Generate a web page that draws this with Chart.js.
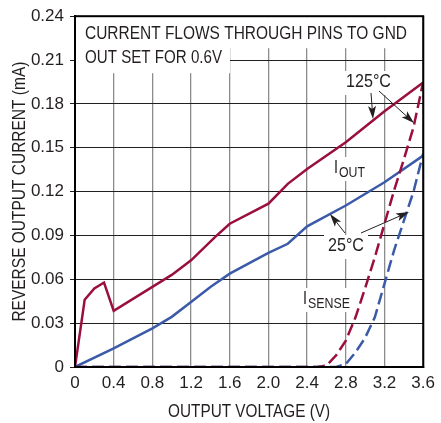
<!DOCTYPE html>
<html>
<head>
<meta charset="utf-8">
<script src="https://cdn.jsdelivr.net/npm/chart.js@4"></script>
<style>
  body { margin: 0; background: #fff; }
  #wrap { width: 441px; height: 423px; }
</style>
</head>
<body>
<div id="wrap"><canvas id="revChart" width="441" height="423"></canvas></div>
<script>
// values (V, mA)
const xTicks = [0, 0.4, 0.8, 1.2, 1.6, 2.0, 2.4, 2.8, 3.2, 3.6];
const yTicks = [0, 0.03, 0.06, 0.09, 0.12, 0.15, 0.18, 0.21, 0.24];

const iout125V = [0, 0.1, 0.2, 0.3, 0.4, 0.8, 1.0, 1.2, 1.45, 1.6, 2.0, 2.2, 2.4, 2.8, 3.2, 3.6];
const iout125I = [0, 0.046, 0.0537, 0.0578, 0.0384, 0.0548, 0.063, 0.073, 0.089, 0.098, 0.1117, 0.1253, 0.1355, 0.1537, 0.175, 0.1946];

const iout25V = [0, 0.4, 0.8, 1.0, 1.2, 1.4, 1.6, 2.0, 2.2, 2.4, 2.8, 3.2, 3.6];
const iout25I = [0, 0.0127, 0.0264, 0.0343, 0.0445, 0.0548, 0.0639, 0.078, 0.0843, 0.0962, 0.1105, 0.1264, 0.1446];

const isense125V = [0, 2.5, 2.6, 2.7, 2.8, 2.9, 3.0, 3.1, 3.2, 3.3, 3.4, 3.5, 3.6];
const isense125I = [0, 0, 0.001, 0.008, 0.018, 0.034, 0.054, 0.075, 0.098, 0.121, 0.142, 0.164, 0.195];

const isense25V = [0, 2.7, 2.8, 2.9, 3.0, 3.1, 3.2, 3.3, 3.4, 3.5, 3.6];
const isense25I = [0, 0, 0.002, 0.01, 0.02, 0.034, 0.057, 0.08, 0.1, 0.12, 0.146];

const RED = '#9a0f3e';
const BLUE = '#3b5ba9';
const INK = '#231f20';
const FONT = "'Liberation Sans', Arial, sans-serif";

function pts(xs, ys) {
    return xs.map((x, i) => ({ x: x, y: ys[i] }));
}

// draws text squeezed horizontally to the given width (the original uses a condensed face)
function fitText(ctx, txt, x, y, size, width, align) {
    ctx.font = size + 'px ' + FONT;
    let w = ctx.measureText(txt).width;
    let k = width / w;
    ctx.save();
    ctx.translate(x, y);
    ctx.scale(k, 1);
    ctx.textBaseline = 'middle';
    ctx.textAlign = align || 'left';
    ctx.fillStyle = INK;
    ctx.fillText(txt, 0, 0);
    ctx.restore();
}

function label(ctx, txt, x, y, w, sub, subW) {
    ctx.fillStyle = '#fff';
    ctx.fillRect(x - 4, y - 11, w + (subW || 0) + 8, 24);
    fitText(ctx, txt, x, y, 18, w);
    if (sub) fitText(ctx, sub, x + w + 1, y + 5, 15, subW);
}

function arrow(ctx, x1, y1, x2, y2) {
    let a = Math.atan2(y2 - y1, x2 - x1);
    let c = Math.cos(a), s = Math.sin(a);
    ctx.strokeStyle = INK;
    ctx.fillStyle = INK;
    ctx.lineWidth = 1;
    ctx.beginPath();
    ctx.moveTo(x1, y1);
    ctx.lineTo(x2 - 8 * c, y2 - 8 * s);
    ctx.stroke();
    ctx.beginPath();
    ctx.moveTo(x2, y2);
    ctx.lineTo(x2 - 13 * c + 4 * s, y2 - 13 * s - 4 * c);
    ctx.lineTo(x2 - 10 * c, y2 - 10 * s);
    ctx.lineTo(x2 - 13 * c - 4 * s, y2 - 13 * s + 4 * c);
    ctx.closePath();
    ctx.fill();
}

const notes = {
    id: 'notes',
    beforeDatasetsDraw(chart) {
        let ctx = chart.ctx;
        let a = chart.chartArea;
        ctx.save();
        ctx.fillStyle = '#fff';
        ctx.fillRect(a.left + 1, a.top + 1, a.right - a.left - 2, 31);
        ctx.fillRect(a.left + 1, a.top + 1, 154, 56);
        fitText(ctx, 'CURRENT FLOWS THROUGH PINS TO GND', 85, 34, 18, 322);
        fitText(ctx, 'OUT SET FOR 0.6V', 85, 58, 18, 137);
        label(ctx, '125°C', 346, 82, 45);
        label(ctx, 'I', 334, 168, 4, 'OUT', 26);
        label(ctx, '25°C', 328, 246, 36);
        label(ctx, 'I', 303, 299, 4, 'SENSE', 42);
        ctx.restore();
    },
    afterDatasetsDraw(chart) {
        let ctx = chart.ctx;
        let a = chart.chartArea;
        ctx.save();
        arrow(ctx, 371, 93, 373, 119);
        arrow(ctx, 379, 91, 414, 123);
        arrow(ctx, 345, 233, 330, 214);
        arrow(ctx, 361, 233, 409, 212);
        ctx.strokeStyle = '#000';
        ctx.lineWidth = 2;
        ctx.strokeRect(a.left, a.top, a.right - a.left, a.bottom - a.top);
        // axis titles, condensed like the original
        fitText(ctx, 'OUTPUT VOLTAGE (V)', (a.left + a.right) / 2, 412, 18, 162, 'center');
        ctx.save();
        ctx.translate(20, (a.top + a.bottom) / 2);
        ctx.rotate(-Math.PI / 2);
        fitText(ctx, 'REVERSE OUTPUT CURRENT (mA)', 0, 0, 18, 260, 'center');
        ctx.restore();
        ctx.restore();
    }
};

let ctx = document.getElementById('revChart').getContext('2d');
let myChart = new Chart(ctx, {
    type: 'line',
    data: {
        datasets: [
            {
                label: 'ISENSE 25°C',
                data: pts(isense25V, isense25I),
                borderColor: BLUE,
                borderWidth: 2.5,
                borderDash: [12, 5],
                pointRadius: 0,
                tension: 0
            },
            {
                label: 'ISENSE 125°C',
                data: pts(isense125V, isense125I),
                borderColor: RED,
                borderWidth: 2.5,
                borderDash: [12, 5],
                pointRadius: 0,
                tension: 0
            },
            {
                label: 'IOUT 25°C',
                data: pts(iout25V, iout25I),
                borderColor: BLUE,
                borderWidth: 2.5,
                pointRadius: 0,
                tension: 0
            },
            {
                label: 'IOUT 125°C',
                data: pts(iout125V, iout125I),
                borderColor: RED,
                borderWidth: 2.5,
                pointRadius: 0,
                tension: 0
            }
        ]
    },
    options: {
        responsive: false,
        animation: false,
        layout: { padding: { top: 16, right: 14, left: 0, bottom: 0 } },
        plugins: { legend: { display: false }, tooltip: { enabled: false } },
        scales: {
            x: {
                type: 'linear',
                min: 0,
                max: 3.6,
                afterBuildTicks: (s) => { s.ticks = xTicks.map(v => ({ value: v })); },
                afterFit: (s) => { s.height = 56; },
                ticks: {
                    color: INK,
                    font: { family: FONT, size: 17 },
                    padding: 6,
                    maxRotation: 0,
                    callback: (v) => v === 0 ? '0' : v.toFixed(1)
                },
                grid: { color: '#8c8c8c', lineWidth: 1.3, drawTicks: false },
                border: { color: '#000', width: 2 }
            },
            y: {
                type: 'linear',
                min: 0,
                max: 0.24,
                afterBuildTicks: (s) => { s.ticks = yTicks.map(v => ({ value: v })); },
                afterFit: (s) => { s.width = 75; },
                ticks: {
                    color: INK,
                    font: { family: FONT, size: 17 },
                    padding: 6,
                    callback: (v) => v === 0 ? '0' : v.toFixed(2)
                },
                grid: { color: INK, lineWidth: 1, tickLength: 5 },
                border: { color: '#000', width: 2 }
            }
        }
    },
    plugins: [notes]
});
</script>
</body>
</html>
